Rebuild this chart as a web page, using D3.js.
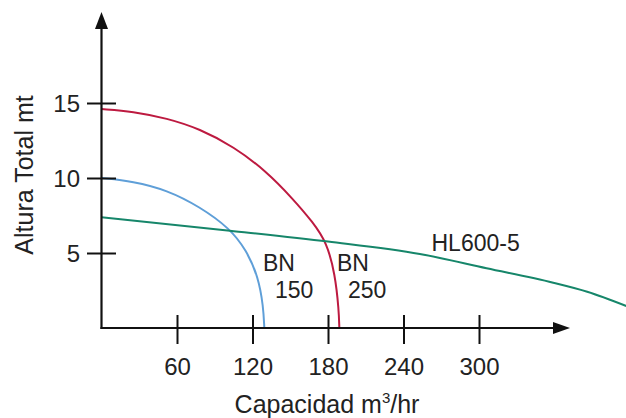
<!DOCTYPE html>
<html>
<head>
<meta charset="utf-8">
<script src="https://cdn.jsdelivr.net/npm/d3@7"></script>
<style>
  body { margin: 0; background: #fff; }
  svg { display: block; font-family: "Liberation Sans", Arial, sans-serif; }
</style>
</head>
<body>
<svg id="chart" width="626" height="418"></svg>
<script>
// values (capacidad m3/hr, altura mt)
const xTicks = [60, 120, 180, 240, 300];
const yTicks = [5, 10, 15];

const bn150Q = [0, 25, 52, 78, 102, 115, 124.6, 128.6, 129.4];
const bn150H = [10, 9.78, 9.2, 8.09, 6.64, 5.2, 3.42, 1.42, 0];

const bn250Q = [0, 25, 52, 78, 105, 131, 152, 168, 179, 185.6, 188.6, 189];
const bn250H = [14.6, 14.44, 13.98, 13.28, 12.09, 10.45, 8.62, 7.05, 5.7, 3.6, 1.2, 0];

const hl600Q = [0, 102, 180, 253, 306, 359, 386, 417];
const hl600H = [7.38, 6.49, 5.76, 4.93, 3.98, 3.02, 2.42, 1.47];

const seriesNames = ["BN150", "BN250", "HL600-5"];

const fn = (() => {
    const width = 626, height = 418;
    const margin = { left: 101.5, bottom: 90 };
    const svg = d3.select("#chart");

    const x = d3.scaleLinear().domain([0, 300]).range([margin.left, 479]);
    const y = d3.scaleLinear().domain([0, 15]).range([height - margin.bottom, 103]);

    const colors = { "BN150": "#5f9fd8", "BN250": "#bd1a40", "HL600-5": "#16866a" };
    const series = [
        { name: "BN150", pts: bn150Q.map((q, i) => [q, bn150H[i]]) },
        { name: "BN250", pts: bn250Q.map((q, i) => [q, bn250H[i]]) },
        { name: "HL600-5", pts: hl600Q.map((q, i) => [q, hl600H[i]]) }
    ];

    const arcLine = d3.line()
        .x(d => x(d[0]))
        .y(d => y(d[1]))
        .curve(d3.curveBasis);
    const flatLine = d3.line()
        .x(d => x(d[0]))
        .y(d => y(d[1]))
        .curve(d3.curveMonotoneX);

    svg.append("clipPath").attr("id", "clip")
        .append("rect").attr("x", 0).attr("y", 0).attr("width", width).attr("height", y(0));

    svg.append("g")
        .attr("clip-path", "url(#clip)")
        .attr("fill", "none")
        .attr("stroke-width", 2)
        .selectAll("path")
        .data(series)
        .join("path")
        .attr("stroke", d => colors[d.name])
        .attr("d", d => d.name === "HL600-5" ? flatLine(d.pts) : arcLine(d.pts));

    // axes
    const x0 = x(0), y0 = y(0);
    const xAxis = svg.append("g")
        .attr("transform", `translate(0,${y0})`)
        .call(d3.axisBottom(x).tickValues(xTicks).tickSize(0).tickPadding(0));
    xAxis.select(".domain").remove();
    xAxis.selectAll(".tick line").attr("y1", -13).attr("y2", 16).attr("stroke", "#111").attr("stroke-width", 2);
    xAxis.selectAll(".tick text")
        .attr("y", 47).attr("dy", null)
        .attr("font-size", 24).attr("fill", "#222")
        .attr("font-family", "Liberation Sans, Arial, sans-serif");

    const yAxis = svg.append("g")
        .attr("transform", `translate(${x0},0)`)
        .call(d3.axisLeft(y).tickValues(yTicks).tickSize(0).tickPadding(0));
    yAxis.select(".domain").remove();
    yAxis.selectAll(".tick line").attr("x1", -14.5).attr("x2", 14.5).attr("stroke", "#111").attr("stroke-width", 2);
    yAxis.selectAll(".tick text")
        .attr("x", -21.5).attr("dy", "0.36em")
        .attr("font-size", 24).attr("fill", "#222")
        .attr("font-family", "Liberation Sans, Arial, sans-serif");

    const axisG = svg.append("g").attr("stroke", "#111").attr("stroke-width", 2.2);
    axisG.append("line").attr("x1", x0).attr("x2", x0).attr("y1", y0 + 1).attr("y2", 26);
    axisG.append("line").attr("x1", x0 - 1).attr("x2", 556).attr("y1", y0).attr("y2", y0);
    svg.append("path").attr("fill", "#111")
        .attr("d", `M${x0},12L${x0 + 6.5},29L${x0 - 6.5},29Z`);
    svg.append("path").attr("fill", "#111")
        .attr("d", `M570,${y0}L553,${y0 - 6}L553,${y0 + 6}Z`);

    // titles
    svg.append("text")
        .attr("x", 327).attr("y", 413)
        .attr("text-anchor", "middle")
        .attr("font-size", 25).attr("fill", "#222")
        .call(t => t.append("tspan").text("Capacidad m"))
        .call(t => t.append("tspan").attr("font-size", 15).attr("dy", -10).text("3"))
        .call(t => t.append("tspan").attr("dy", 10).text("/hr"));

    svg.append("text")
        .attr("transform", "translate(33,175) rotate(-90)")
        .attr("text-anchor", "middle")
        .attr("font-size", 25).attr("fill", "#222")
        .text("Altura Total mt");

    // curve labels
    const lab = svg.append("g").attr("font-size", 23).attr("fill", "#222");
    lab.append("text").attr("x", 263).attr("y", 271).text("BN");
    lab.append("text").attr("x", 275).attr("y", 298).text("150");
    lab.append("text").attr("x", 337).attr("y", 271).text("BN");
    lab.append("text").attr("x", 348).attr("y", 298).text("250");
    lab.append("text").attr("x", 431.5).attr("y", 251).text(seriesNames[2]);
})
fn();
</script>
</body>
</html>
